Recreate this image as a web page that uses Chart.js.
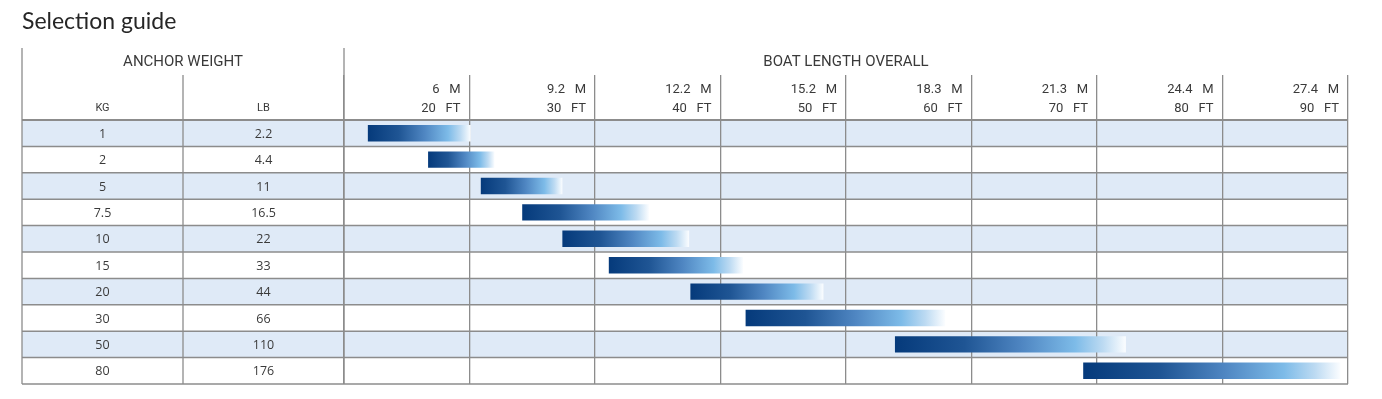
<!DOCTYPE html>
<html>
<head>
<meta charset="utf-8">
<script src="https://cdn.jsdelivr.net/npm/chart.js@4.4.0/dist/chart.umd.min.js"></script>
<style>
  html, body { margin: 0; padding: 0; background: #ffffff; }
  #wrap { width: 1382px; height: 399px; position: relative; }
</style>
</head>
<body>
<div id="wrap"><canvas id="c" width="1382" height="399"></canvas></div>
<script>
// ---- data ----
const kgLabels = ['1', '2', '5', '7.5', '10', '15', '20', '30', '50', '80'];
const lbLabels = ['2.2', '4.4', '11', '16.5', '22', '33', '44', '66', '110', '176'];
const rangeStartFt = [11.9, 16.7, 20.9, 24.2, 27.4, 31.1, 37.6, 42.0, 53.9, 68.9];
const rangeEndFt = [20.1, 22.0, 27.4, 34.3, 37.5, 41.8, 48.2, 57.9, 72.3, 89.4];
const ftTicks = [20, 30, 40, 50, 60, 70, 80, 90];
const mTicks = ['6', '9.2', '12.2', '15.2', '18.3', '21.3', '24.4', '27.4'];
const titleText = 'Selection guide';
const leftHeader = 'ANCHOR WEIGHT';
const rightHeader = 'BOAT LENGTH OVERALL';
const kgHeader = 'KG';
const lbHeader = 'LB';

// ---- layout constants ----
const TABLE_LEFT = 22;
const COL_DIV = 183;
const TABLE_TOP = 48;
const SUB_TOP = 75;
const LINE_COLOR = '#8c8c8c';
const ROW_FILL = '#dfeaf7';
const TEXT_COLOR = '#3a3a3a';

function barGradient(ctx) {
  const chart = ctx.chart;
  if (!chart.chartArea || !ctx.raw) return '#2d63a3';
  const xs = chart.scales.x;
  const x0 = xs.getPixelForValue(ctx.raw[0]);
  const x1 = xs.getPixelForValue(ctx.raw[1]);
  const g = chart.ctx.createLinearGradient(x0, 0, x1, 0);
  g.addColorStop(0, '#053a7b');
  g.addColorStop(0.3, '#1f5594');
  g.addColorStop(0.55, '#4f86c2');
  g.addColorStop(0.78, '#7dbbe8');
  g.addColorStop(0.9, '#bcdaf2');
  g.addColorStop(1, '#fbfdff');
  return g;
}

const tablePlugin = {
  id: 'tablePlugin',
  beforeDraw(chart) {
    const ctx = chart.ctx;
    const ys = chart.scales.y;
    const xs = chart.scales.x;
    ctx.save();
    ctx.fillStyle = '#ffffff';
    ctx.fillRect(0, 0, chart.width, chart.height);
    const n = kgLabels.length;
    const h = (ys.bottom - ys.top) / n;
    ctx.fillStyle = ROW_FILL;
    for (let i = 0; i < n; i += 2) {
      ctx.fillRect(TABLE_LEFT, ys.top + i * h, xs.right - TABLE_LEFT, h);
    }
    ctx.restore();
  },
  afterDatasetsDraw(chart) {
    const ctx = chart.ctx;
    const ys = chart.scales.y;
    const xs = chart.scales.x;
    const n = kgLabels.length;
    const h = (ys.bottom - ys.top) / n;
    ctx.save();
    ctx.strokeStyle = LINE_COLOR;
    // horizontal row lines
    for (let i = 0; i <= n; i++) {
      const y = ys.top + i * h;
      ctx.lineWidth = i === 0 ? 2.2 : 1.5;
      ctx.beginPath();
      ctx.moveTo(TABLE_LEFT, y);
      ctx.lineTo(xs.right, y);
      ctx.stroke();
    }
    // vertical dividers
    ctx.lineWidth = 1.3;
    const vlines = [[TABLE_LEFT, TABLE_TOP], [COL_DIV, SUB_TOP], [xs.left, TABLE_TOP]];
    vlines.forEach(([x, y0]) => {
      ctx.beginPath();
      ctx.moveTo(x, y0);
      ctx.lineTo(x, ys.bottom);
      ctx.stroke();
    });
    // title
    ctx.fillStyle = '#262626';
    ctx.textAlign = 'left';
    ctx.textBaseline = 'middle';
    ctx.font = '23px Lato';
    ctx.fillText(titleText, TABLE_LEFT, 22);
    // headers
    ctx.fillStyle = TEXT_COLOR;
    ctx.textAlign = 'center';
    ctx.font = '15px Roboto';
    ctx.fillText(leftHeader, (TABLE_LEFT + xs.left) / 2, 62);
    ctx.fillText(rightHeader, (xs.left + xs.right) / 2, 62);
    ctx.font = '11px Roboto';
    ctx.fillText(kgHeader, (TABLE_LEFT + COL_DIV) / 2, 108);
    ctx.fillText(lbHeader, (COL_DIV + xs.left) / 2, 108);
    // row labels
    ctx.font = '12.5px "Open Sans"';
    for (let i = 0; i < n; i++) {
      const y = ys.getPixelForValue(i) + 1;
      ctx.fillText(kgLabels[i], (TABLE_LEFT + COL_DIV) / 2, y);
      ctx.fillText(lbLabels[i], (COL_DIV + xs.left) / 2, y);
    }
    ctx.restore();
  }
};

new Chart(document.getElementById('c'), {
  type: 'bar',
  data: {
    labels: kgLabels,
    datasets: [{
      data: rangeStartFt.map((s, i) => [s, rangeEndFt[i]]),
      backgroundColor: barGradient,
      borderWidth: 0,
      borderSkipped: false,
      barPercentage: 0.62,
      categoryPercentage: 1.0
    }]
  },
  options: {
    indexAxis: 'y',
    responsive: false,
    animation: false,
    devicePixelRatio: 1,
    layout: { padding: { top: TABLE_TOP, left: 344, right: 34, bottom: 15 } },
    plugins: { legend: { display: false }, tooltip: { enabled: false }, title: { display: false } },
    scales: {
      x: {
        type: 'linear',
        position: 'top',
        min: 10,
        max: 90,
        afterFit(scale) { scale.height = 120 - TABLE_TOP; },
        ticks: {
          stepSize: 10,
          autoSkip: false,
          maxRotation: 0,
          align: 'end',
          labelOffset: -9,
          padding: -43.5,
          color: TEXT_COLOR,
          font: { family: 'Roboto', size: 13, lineHeight: 1.46 },
          callback(value) {
            const i = ftTicks.indexOf(value);
            if (i < 0) return '';
            return [mTicks[i] + '   M', ftTicks[i] + '   FT'];
          }
        },
        grid: {
          color: LINE_COLOR,
          lineWidth: 1.3,
          drawTicks: true,
          tickLength: 45
        },
        border: { display: false }
      },
      y: {
        type: 'category',
        display: false
      }
    }
  },
  plugins: [tablePlugin]
});
</script>
</body>
</html>
